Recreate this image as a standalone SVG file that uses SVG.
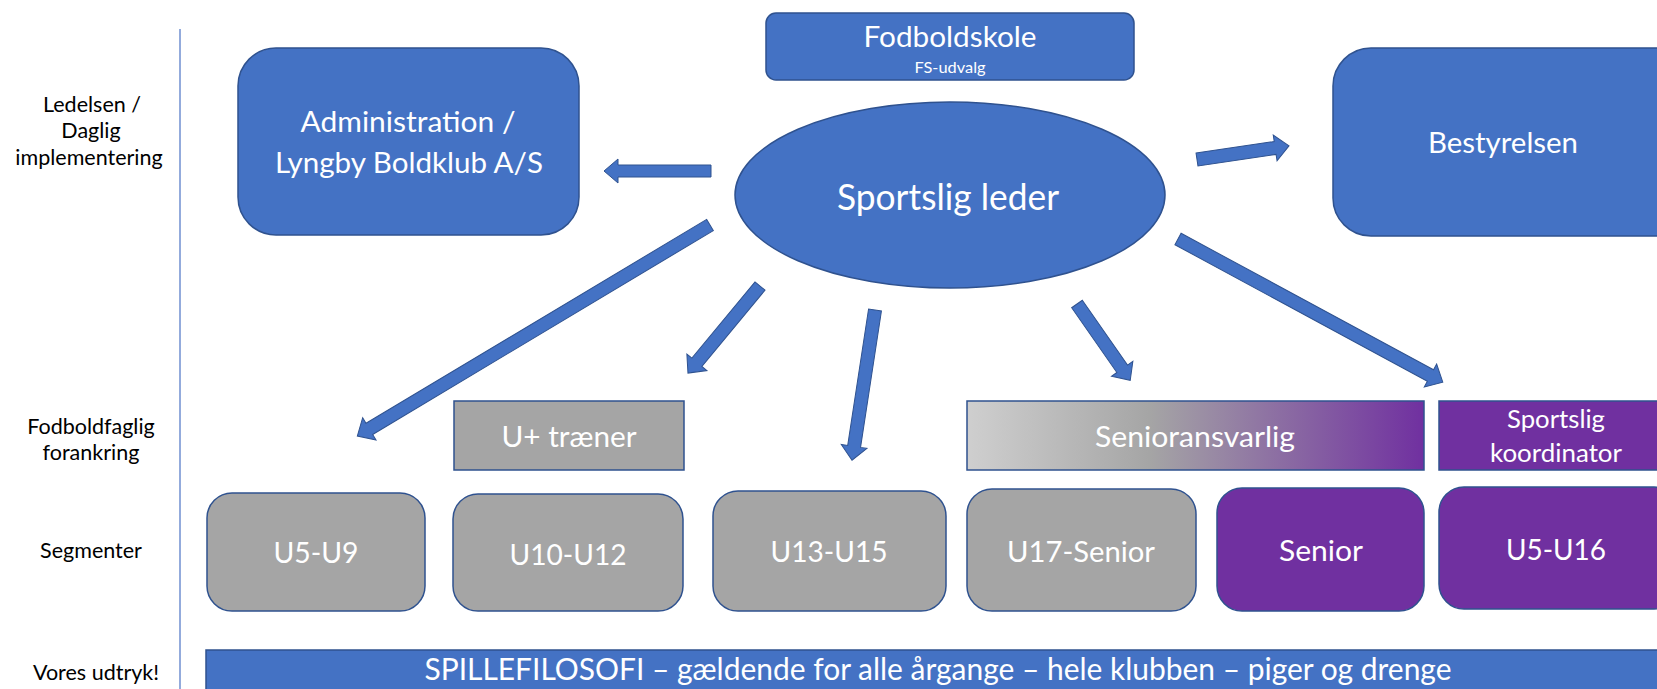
<svg xmlns="http://www.w3.org/2000/svg" width="1657" height="689" viewBox="0 0 1657 689">
<style>
text{font-family:Lato,"Open Sans","Liberation Sans",sans-serif;text-anchor:middle}
.w{fill:#fff}
.k{fill:#000;font-size:21.5px}
.blue{fill:#4472C4;stroke:#2F528F;stroke-width:1.5}
.gray{fill:#A5A5A5;stroke:#2F528F;stroke-width:1.5}
.purple{fill:#7030A0;stroke:#2F528F;stroke-width:1.5}
.arr{fill:#4472C4;stroke:#2F528F;stroke-width:1}
</style>
<defs>
<linearGradient id="sg" x1="0" y1="0" x2="1" y2="0">
<stop offset="0" stop-color="#CFCFCF"/>
<stop offset="0.4" stop-color="#A5A5A5"/>
<stop offset="1" stop-color="#7030A0"/>
</linearGradient>
</defs>
<rect width="1657" height="689" fill="#fff"/>
<g id="labels">
<text class="k" x="92" y="112">Ledelsen /</text>
<text class="k" x="91" y="138">Daglig</text>
<text class="k" x="89" y="165">implementering</text>
<text class="k" x="91" y="434">Fodboldfaglig</text>
<text class="k" x="91" y="460">forankring</text>
<text class="k" x="91" y="558">Segmenter</text>
<text class="k" x="96" y="680">Vores udtryk!</text>
<line x1="180" y1="29" x2="180" y2="689" stroke="#6F8FD0" stroke-width="1.5"/>
</g>
<g id="administration">
<rect class="blue" x="238" y="48" width="341" height="187" rx="38"/>
<text class="w" x="408" y="132" font-size="29" textLength="215" lengthAdjust="spacingAndGlyphs">Administration /</text>
<text class="w" x="409" y="173" font-size="29" textLength="268" lengthAdjust="spacingAndGlyphs">Lyngby Boldklub A/S</text>
</g>
<g id="fodboldskole">
<rect class="blue" x="766" y="13" width="368" height="67" rx="10"/>
<text class="w" x="950" y="47" font-size="29" textLength="173" lengthAdjust="spacingAndGlyphs">Fodboldskole</text>
<text class="w" x="950" y="73" font-size="15" textLength="71" lengthAdjust="spacingAndGlyphs">FS-udvalg</text>
</g>
<g id="sportslig-leder">
<ellipse class="blue" cx="950" cy="195" rx="215" ry="93"/>
<text class="w" x="948" y="210" font-size="36" textLength="222" lengthAdjust="spacingAndGlyphs">Sportslig leder</text>
</g>
<g id="bestyrelsen">
<rect class="blue" x="1333" y="48" width="380" height="188" rx="38"/>
<text class="w" x="1503" y="153" font-size="29" textLength="150" lengthAdjust="spacingAndGlyphs">Bestyrelsen</text>
</g>
<g id="u-traener">
<rect class="gray" x="454" y="401" width="230" height="69"/>
<text class="w" x="569" y="447" font-size="29" textLength="135" lengthAdjust="spacingAndGlyphs">U+ træner</text>
</g>
<g id="senioransvarlig">
<rect x="967" y="401" width="457" height="69" fill="url(#sg)" stroke="#2F528F" stroke-width="1.5"/>
<text class="w" x="1195" y="447" font-size="29" textLength="200" lengthAdjust="spacingAndGlyphs">Senioransvarlig</text>
</g>
<g id="sportslig-koordinator">
<rect class="purple" x="1439" y="401" width="240" height="69"/>
<text class="w" x="1556" y="428" font-size="25" textLength="98" lengthAdjust="spacingAndGlyphs">Sportslig</text>
<text class="w" x="1556" y="462" font-size="25" textLength="132" lengthAdjust="spacingAndGlyphs">koordinator</text>
</g>
<g id="u5-u9">
<rect class="gray" x="207" y="493" width="218" height="118" rx="25"/>
<text class="w" x="316" y="563" font-size="29" textLength="85" lengthAdjust="spacingAndGlyphs">U5-U9</text>
</g>
<g id="u10-u12">
<rect class="gray" x="453" y="494" width="230" height="117" rx="25"/>
<text class="w" x="568" y="565" font-size="29" textLength="117" lengthAdjust="spacingAndGlyphs">U10-U12</text>
</g>
<g id="u13-u15">
<rect class="gray" x="713" y="491" width="233" height="120" rx="25"/>
<text class="w" x="829" y="562" font-size="29" textLength="117" lengthAdjust="spacingAndGlyphs">U13-U15</text>
</g>
<g id="u17-senior">
<rect class="gray" x="967" y="489" width="229" height="122" rx="25"/>
<text class="w" x="1081" y="562" font-size="29" textLength="148" lengthAdjust="spacingAndGlyphs">U17-Senior</text>
</g>
<g id="senior">
<rect class="purple" x="1217" y="488" width="207" height="123" rx="25"/>
<text class="w" x="1321" y="561" font-size="29" textLength="84" lengthAdjust="spacingAndGlyphs">Senior</text>
</g>
<g id="u5-u16">
<rect class="purple" x="1439" y="487" width="240" height="122" rx="25"/>
<text class="w" x="1556" y="560" font-size="29" textLength="100" lengthAdjust="spacingAndGlyphs">U5-U16</text>
</g>
<g id="spillefilosofi">
<rect class="blue" x="206" y="650" width="1470" height="60"/>
<text class="w" x="938" y="680" font-size="30" textLength="1027" lengthAdjust="spacingAndGlyphs">SPILLEFILOSOFI – gældende for alle årgange – hele klubben – piger og drenge</text>
</g>
<g id="connectors">
<path class="arr" transform="translate(711,171) rotate(180)" d="M0,-6 L93,-6 L93,-12 L107,0 L93,12 L93,6 L0,6 Z"/>
<path class="arr" transform="translate(710,225) rotate(149.1)" d="M0,-6.5 L397,-6.5 L397,-13 L411,0 L397,13 L397,6.5 L0,6.5 Z"/>
<path class="arr" transform="translate(760,286) rotate(129.6)" d="M0,-6.5 L99,-6.5 L99,-13 L113,0 L99,13 L99,6.5 L0,6.5 Z"/>
<path class="arr" transform="translate(875,310) rotate(98.7)" d="M0,-6.5 L138,-6.5 L138,-13 L152,0 L138,13 L138,6.5 L0,6.5 Z"/>
<path class="arr" transform="translate(1077,304) rotate(55.1)" d="M0,-6.5 L79,-6.5 L79,-13 L93,0 L79,13 L79,6.5 L0,6.5 Z"/>
<path class="arr" transform="translate(1178,239) rotate(28.4)" d="M0,-6.5 L287,-6.5 L287,-13 L301,0 L287,13 L287,6.5 L0,6.5 Z"/>
<path class="arr" transform="translate(1197,159.5) rotate(-8.4)" d="M0,-6.5 L79,-6.5 L79,-13 L93,0 L79,13 L79,6.5 L0,6.5 Z"/>
</g>
</svg>
